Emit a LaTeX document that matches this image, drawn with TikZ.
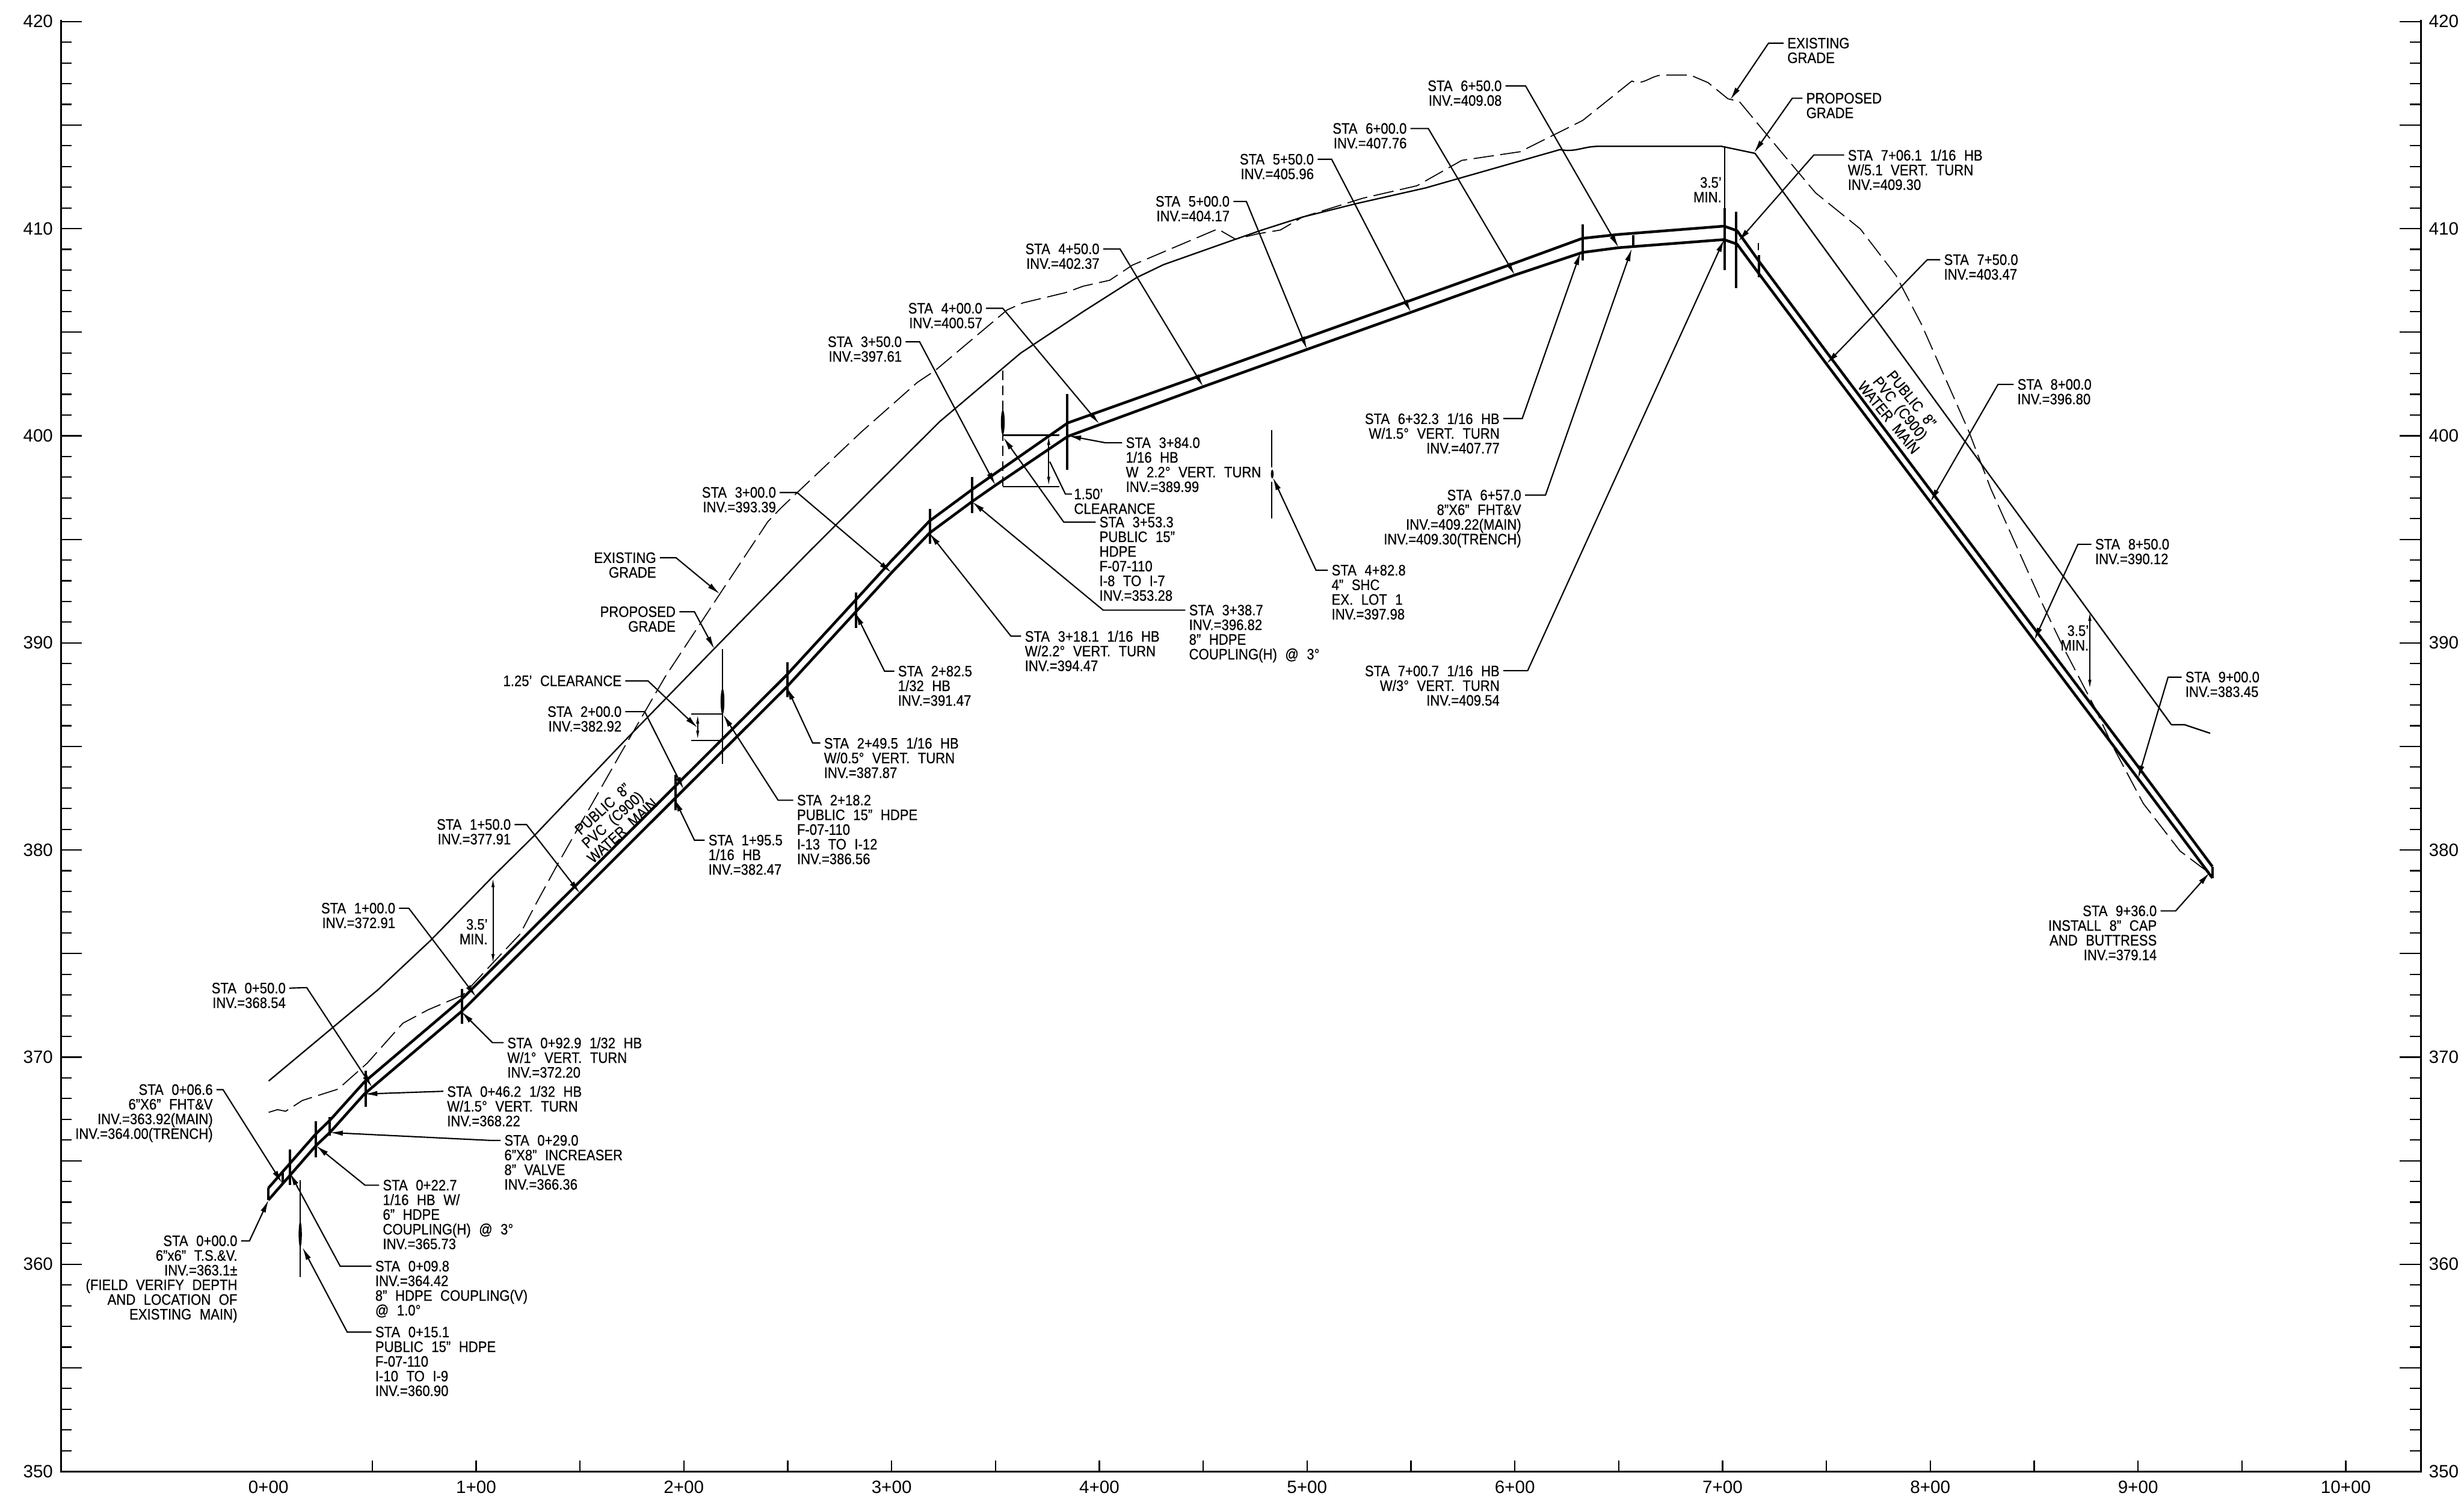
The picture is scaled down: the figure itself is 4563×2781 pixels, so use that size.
\documentclass[tikz,border=0pt]{standalone}
\usepackage{fontspec}
\usetikzlibrary{arrows.meta}
\setmainfont[FakeStretch=0.88,WordSpace=2.2,FakeBold=0.5]{Liberation Sans}
\newfontfamily\axfont{Liberation Sans}
\tikzset{
  lab/.style={inner sep=0pt,outer sep=0pt,font=\fontsize{14}{13.6}\selectfont},
  laW/.style={lab,anchor=north west,align=left},
  laE/.style={lab,anchor=north east,align=right},
  axlab/.style={inner sep=0pt,outer sep=0pt,font=\axfont\fontsize{16.5}{18}\selectfont},
  axisline/.style={line width=1.6pt,line cap=rect},
  tickline/.style={line width=1.2pt},
  pipe/.style={line width=2.5pt,line join=round},
  gradeline/.style={line width=1.3pt,line join=round},
  exgrade/.style={line width=0.95pt,dash pattern=on 19pt off 6pt,line join=round},
  leader/.style={line width=1.2pt,line join=miter,-{Latex[length=12pt,width=5pt]}},
  plainleader/.style={line width=1.2pt},
  dimline/.style={line width=1.1pt,{Latex[length=9pt,width=3pt]}-{Latex[length=9pt,width=3pt]}},
  fitmark/.style={line width=2.2pt},
  thinmark/.style={line width=1.3pt},
}
\newcommand{\leadE}[4]{\draw[leader] ([xshift=3.5pt,yshift=-5pt]#1.north east) -- (#2,#3) -- (#4);}
\newcommand{\leadW}[4]{\draw[leader] ([xshift=-3.5pt,yshift=-5pt]#1.north west) -- (#2,#3) -- (#4);}
\begin{document}
\begin{tikzpicture}[x=0.5pt,y=-0.5pt]
\path[fill=white,use as bounding box] (0,0) rectangle (4563,2781);
% axes
\draw[axisline] (113,38) -- (113,2725) -- (4483,2725) -- (4483,38);
\foreach \i in {1,...,70}{
  \pgfmathsetmacro{\yy}{2725-38.36*\i}
  \pgfmathtruncatemacro{\mm}{mod(\i,5)==0 ? 39 : 20}
  \draw[tickline] (113,\yy) -- ++(\mm,0);
  \draw[tickline] (4483,\yy) -- ++(-\mm,0);
}
\foreach \i in {0,...,7}{
  \pgfmathsetmacro{\yy}{2725-383.6*\i}
  \pgfmathtruncatemacro{\vv}{350+10*\i}
  \node[axlab,anchor=east] (yl\i) at (98,\yy) {\vv};
  \node[axlab,anchor=west] (yr\i) at (4498,\yy) {\vv};
}
\foreach \i in {1,...,20}{
  \pgfmathsetmacro{\xx}{497+192.35*\i}
  \draw[tickline] (\xx,2725) -- ++(0,-20);
}
\foreach \i in {0,...,10}{
  \pgfmathsetmacro{\xx}{497+384.7*\i}
  \node[axlab] (xl\i) at (\xx,2754) {\i+00};
}
% data scope: x in stations, y in elevation
\begin{scope}[x=192.35pt,y=19.18pt,shift={(248.5pt,-8075.5pt)}]
\draw[pipe] (0,363.1) coordinate (lowS) -- (.229,365.73) -- (.296,366.36) -- (.462,368.22) -- (.929,372.2) -- (1,372.91) -- (1.5,377.91) -- (2,382.92) -- (2.495,387.87) -- (2.825,391.47) -- (3,393.39) -- (3.182,395.3) -- (3.387,396.82) -- (3.5,397.61) -- (3.848,399.97) -- (4.5,402.37) -- (5,404.17) -- (5.5,405.96) -- (6,407.76) -- (6.325,408.85) -- (6.5,409.08) -- (7.007,409.47) -- (7.07,409.25) -- (7.18,407.76) -- (7.5,403.47) -- (8,396.8) -- (8.5,390.12) -- (9,383.45) -- (9.358,378.65) coordinate (lowE);
\draw[pipe] (0,363.68) coordinate (upS) -- (.229,366.3) -- (.296,366.95) -- (.462,368.8) -- (.929,372.78) -- (1,373.49) -- (1.5,378.49) -- (2,383.5) -- (2.495,388.45) -- (2.825,392.05) -- (3,393.97) -- (3.182,395.88) -- (3.387,397.4) -- (3.5,398.19) -- (3.848,400.62) -- (4.5,402.95) -- (5,404.75) -- (5.5,406.54) -- (6,408.34) -- (6.325,409.53) -- (6.5,409.72) -- (7.007,410.12) -- (7.07,409.9) -- (7.18,408.36) -- (7.5,404.05) -- (8,397.38) -- (8.5,390.7) -- (9,384.03) -- (9.358,379.2) coordinate (upE);
\draw[pipe] (lowS) -- (upS);
\draw[pipe] (lowE) -- (upE);
\coordinate (t000) at (0,363.1);
\coordinate (t066) at (.066,363.92);
\coordinate (t098) at (.103,364.42);
\coordinate (t227) at (.229,365.73);
\coordinate (t290) at (.296,366.36);
\coordinate (t462) at (.462,368.22);
\coordinate (t050) at (.5,368.54);
\coordinate (t929) at (.929,372.2);
\coordinate (t100) at (1,372.91);
\coordinate (t150) at (1.5,377.91);
\coordinate (t195) at (1.955,382.47);
\coordinate (t200) at (2,382.92);
\coordinate (t249) at (2.495,387.87);
\coordinate (t282) at (2.825,391.47);
\coordinate (t300) at (3,393.39);
\coordinate (t318) at (3.182,395.3);
\coordinate (t338) at (3.387,396.82);
\coordinate (t350) at (3.5,397.61);
\coordinate (t400) at (4,400.57);
\coordinate (t450) at (4.5,402.37);
\coordinate (t500) at (5,404.17);
\coordinate (t550) at (5.5,405.96);
\coordinate (t600) at (6,407.76);
\coordinate (t650) at (6.5,409.08);
\coordinate (t750) at (7.5,403.47);
\coordinate (t800) at (8,396.8);
\coordinate (t850) at (8.5,390.12);
\coordinate (t900) at (9,383.45);
\end{scope}
% proposed grade
\draw[gradeline] (497.5,2002) -- (700,1833) -- (797,1742) -- (913,1623) -- (990,1547) -- (1149,1380) -- (1324,1200) -- (1500,1020) -- (1740,781) -- (1890,654) -- (2006,577) -- (2105,514) -- (2155,490) -- (2288,443) -- (2337,426) -- (2412,402) -- (2512,377) -- (2640,348) -- (2889,277) to[out=-12,in=180] (2960,271) -- (3188,271) -- (3250,284) -- (4021,1342) -- (4045,1342) -- (4093,1358);
% existing grade
\draw[exgrade] (497.5,2060) -- (514,2055) -- (529,2058) -- (560,2038) -- (626,2017) -- (680,1969) -- (746,1895) -- (793,1870) -- (857,1843) -- (913,1783) -- (963,1730) -- (993,1673) -- (1033,1600) -- (1067,1540) -- (1149,1396) -- (1232,1253) -- (1331,1103) -- (1422,966) -- (1447,940) -- (1595,800) -- (1699,708) -- (1732,686) -- (1865,574) -- (1894,561) -- (1973,542) -- (2006,530) -- (2055,519) -- (2097,491) -- (2255,424) -- (2288,443) -- (2329,433) -- (2371,426) -- (2412,402) -- (2524,367) -- (2624,344) -- (2707,297) -- (2815,281) -- (2931,223) -- (3022,150) to[out=-25,in=180] (3080,139) -- (3130,139) -- (3163,153) -- (3200,183) -- (3221,188) -- (3279,258) -- (3362,357) -- (3445,424) -- (3511,510) -- (3558,600) -- (3646,799) -- (3687,906) -- (3783,1120) -- (3820,1197) -- (3880,1312) -- (3912,1381) -- (3969,1488) -- (4037,1576) -- (4093,1618);
% fitting marks
\draw[fitmark] (524,2172) -- (524,2191);
\draw[fitmark] (536.5,2129) -- (536.5,2195);
\draw[fitmark] (585,2077) -- (585,2143);
\draw[fitmark] (611,2069) -- (611,2103);
\draw[fitmark] (677,1983) -- (677,2050);
\draw[fitmark] (856,1831) -- (856,1896);
\draw[fitmark] (1251,1435) -- (1251,1501);
\draw[fitmark] (1458,1227) -- (1458,1291);
\draw[fitmark] (1585,1097) -- (1585,1163);
\draw[fitmark] (1722,942) -- (1722,1007);
\draw[fitmark] (1800,883) -- (1800,950);
\draw[fitmark] (1976,730) -- (1976,870);
\draw[fitmark] (2931,415) -- (2931,482);
\draw[fitmark] (3024,436) -- (3024,459);
\draw[fitmark] (3193.5,385) -- (3193.5,500);
\draw[fitmark] (3215,392) -- (3215,534);
\draw[thinmark] (3256,450) -- (3256,463);
\draw[fitmark] (3257,472) -- (3257,513);
% crossings
\draw[thinmark] (556,2186) -- (556,2365);
\fill (556,2286) ellipse (3 and 24);
\draw[thinmark] (1338,1202) -- (1338,1415);
\fill (1338,1299) ellipse (3.5 and 24);
\draw[thinmark,dash pattern=on 9pt off 5pt] (1857,686) -- (1857,903);
\fill (1857,782) ellipse (3.5 and 23);
\draw[thinmark] (2355,797) -- (2355,866);
\draw[thinmark] (2355,892) -- (2355,960);
\fill (2356,878) ellipse (2.5 and 8);
% clearance dims
\draw[thinmark] (1280,1322) -- (1338,1322);
\draw[thinmark] (1280,1371) -- (1338,1371);
\draw[dimline] (1292,1322) -- (1292,1371);
\draw[thinmark] (1857,806) -- (1962,806);
\draw[thinmark] (1857,901) -- (1962,901);
\draw[dimline] (1942,806) -- (1942,901);
% 3.5 min dims
\draw[dimline] (913,1625) -- (913,1785);
\draw[dimline,-] (3193.5,272) -- (3193.5,400);
\draw[dimline] (3870,1132) -- (3870,1277);
\node[lab,anchor=north east,align=right] (minA) at (903,1702) {3.5'\\MIN.};
\node[lab,anchor=north east,align=right] (minB) at (3188,328) {3.5'\\MIN.};
\node[lab,anchor=north east,align=right] (minC) at (3868,1158) {3.5'\\MIN.};
% pipe notes
\node[lab,align=center,rotate=42] (noteA) at (1134,1518) {PUBLIC 8"\\PVC (C900)\\WATER MAIN};
\node[lab,align=center,rotate=-51] (noteB) at (3519,756) {PUBLIC 8"\\PVC (C900)\\WATER MAIN};
% free leader ends
\coordinate (tA) at (497.5,2222);
\coordinate (t151) at (560,2310);
\coordinate (t125) at (1292,1348);
\coordinate (tEG1) at (1333,1100);
\coordinate (tPG1) at (1323,1202);
\coordinate (t218) at (1339,1323);
\coordinate (t353) at (1858,810);
\coordinate (t384) at (1978,807);
\coordinate (t482) at (2357,884);
\coordinate (t632) at (2927,467);
\coordinate (t657) at (3022,460);
\coordinate (t707) at (3193,443);
\coordinate (tEG2) at (3204,185);
\coordinate (tPG2) at (3248,283);
\coordinate (t761) at (3219,447);
\coordinate (t936) at (4092,1616);
\coordinate (t150c) at (1944,855);
% labels
\node[laE] (L1) at (529,1820) {STA 0+50.0\\INV.=368.54};
\leadE{L1}{568}{1829}{t050}
\node[laE] (L2) at (394,2008) {STA 0+06.6\\6"X6" FHT\&V\\INV.=363.92(MAIN)\\INV.=364.00(TRENCH)};
\leadE{L2}{413}{2018}{t066}
\node[laE] (L3) at (439.5,2288) {STA 0+00.0\\6"x6" T.S.\&V.\\INV.=363.1±\\(FIELD VERIFY DEPTH\\AND LOCATION OF\\EXISTING MAIN)};
\leadE{L3}{462}{2298}{tA}
\node[laW] (L4) at (939.5,1921) {STA 0+92.9 1/32 HB\\W/1° VERT. TURN\\INV.=372.20};
\leadW{L4}{912}{1931}{t929}
\node[laW] (L5) at (828,2011) {STA 0+46.2 1/32 HB\\W/1.5° VERT. TURN\\INV.=368.22};
\draw[leader] ([xshift=-3.5pt,yshift=-5pt]L5.north west) -- (t462);
\node[laW] (L6) at (934,2102) {STA 0+29.0\\6"X8" INCREASER\\8" VALVE\\INV.=366.36};
\leadW{L6}{908}{2112}{t290}
\node[laW] (L7) at (709,2185) {STA 0+22.7\\1/16 HB W/\\6" HDPE\\COUPLING(H) @ 3°\\INV.=365.73};
\leadW{L7}{676}{2195}{t227}
\node[laW] (L8) at (695,2335) {STA 0+09.8\\INV.=364.42\\8" HDPE COUPLING(V)\\@ 1.0°};
\leadW{L8}{630}{2345}{t098}
\node[laW] (L9) at (695,2457) {STA 0+15.1\\PUBLIC 15" HDPE\\F-07-110\\I-10 TO I-9\\INV.=360.90};
\leadW{L9}{643}{2467}{t151}
\node[laE] (L10) at (732,1672) {STA 1+00.0\\INV.=372.91};
\leadE{L10}{757}{1682}{t100}
\node[laE] (L11) at (946,1517) {STA 1+50.0\\INV.=377.91};
\leadE{L11}{975}{1527}{t150}
\node[laE] (L12) at (1151,1308) {STA 2+00.0\\INV.=382.92};
\leadE{L12}{1194}{1318}{t200}
\node[laE] (L13) at (1151,1251) {1.25' CLEARANCE};
\leadE{L13}{1200}{1261}{t125}
\node[laE] (L14) at (1215,1023) {EXISTING\\GRADE};
\leadE{L14}{1252}{1033}{tEG1}
\node[laE] (L15) at (1251,1123) {PROPOSED\\GRADE};
\leadE{L15}{1286}{1133}{tPG1}
\node[laE] (L16) at (1437,902) {STA 3+00.0\\INV.=393.39};
\leadE{L16}{1476}{912}{t300}
\node[laW] (L17) at (1312,1546) {STA 1+95.5\\1/16 HB\\INV.=382.47};
\leadW{L17}{1286}{1556}{t195}
\node[laW] (L18) at (1476,1472) {STA 2+18.2\\PUBLIC 15" HDPE\\F-07-110\\I-13 TO I-12\\INV.=386.56};
\leadW{L18}{1441}{1482}{t218}
\node[laW] (L19) at (1526,1366) {STA 2+49.5 1/16 HB\\W/0.5° VERT. TURN\\INV.=387.87};
\leadW{L19}{1505}{1376}{t249}
\node[laW] (L20) at (1663,1233) {STA 2+82.5\\1/32 HB\\INV.=391.47};
\leadW{L20}{1638}{1243}{t282}
\node[laW] (L21) at (1898,1168) {STA 3+18.1 1/16 HB\\W/2.2° VERT. TURN\\INV.=394.47};
\leadW{L21}{1872}{1178}{t318}
\node[laW] (L22) at (2202,1120) {STA 3+38.7\\INV.=396.82\\8" HDPE\\COUPLING(H) @ 3°};
\leadW{L22}{2043}{1130}{t338}
\node[laW] (L23) at (2036,957) {STA 3+53.3\\PUBLIC 15"\\HDPE\\F-07-110\\I-8 TO I-7\\INV.=353.28};
\leadW{L23}{1970}{967}{t353}
\node[laW] (L24) at (1989,905) {1.50'\\CLEARANCE};
\draw[plainleader] ([xshift=-2pt,yshift=-5pt]L24.north west) -- (1973,915) -- (t150c);
\node[laW] (L25) at (2085,810) {STA 3+84.0\\1/16 HB\\W 2.2° VERT. TURN\\INV.=389.99};
\leadW{L25}{2047}{820}{t384}
\node[laE] (L26) at (1670,623) {STA 3+50.0\\INV.=397.61};
\leadE{L26}{1703}{633}{t350}
\node[laE] (L27) at (1819,561) {STA 4+00.0\\INV.=400.57};
\leadE{L27}{1857}{571}{t400}
\node[laE] (L28) at (2036,451) {STA 4+50.0\\INV.=402.37};
\leadE{L28}{2074}{461}{t450}
\node[laE] (L29) at (2277,363) {STA 5+00.0\\INV.=404.17};
\leadE{L29}{2308}{373}{t500}
\node[laE] (L30) at (2433,285) {STA 5+50.0\\INV.=405.96};
\leadE{L30}{2466}{295}{t550}
\node[laE] (L31) at (2605,228) {STA 6+00.0\\INV.=407.76};
\leadE{L31}{2645}{238}{t600}
\node[laE] (L32) at (2781,149) {STA 6+50.0\\INV.=409.08};
\leadE{L32}{2825}{159}{t650}
\node[laE] (L33) at (2777,765) {STA 6+32.3 1/16 HB\\W/1.5° VERT. TURN\\INV.=407.77};
\leadE{L33}{2819}{775}{t632}
\node[laE] (L34) at (2817,907) {STA 6+57.0\\8"X6" FHT\&V\\INV.=409.22(MAIN)\\INV.=409.30(TRENCH)};
\leadE{L34}{2862}{917}{t657}
\node[laE] (L35) at (2777,1232) {STA 7+00.7 1/16 HB\\W/3° VERT. TURN\\INV.=409.54};
\leadE{L35}{2829}{1242}{t707}
\node[laW] (L36) at (3310,70) {EXISTING\\GRADE};
\leadW{L36}{3275}{80}{tEG2}
\node[laW] (L37) at (3345,172) {PROPOSED\\GRADE};
\leadW{L37}{3319}{182}{tPG2}
\node[laW] (L38) at (3422,277) {STA 7+06.1 1/16 HB\\W/5.1 VERT. TURN\\INV.=409.30};
\leadW{L38}{3359}{287}{t761}
\node[laW] (L39) at (3600,471) {STA 7+50.0\\INV.=403.47};
\leadW{L39}{3569}{481}{t750}
\node[laW] (L40) at (3736,702) {STA 8+00.0\\INV.=396.80};
\leadW{L40}{3700}{712}{t800}
\node[laW] (L41) at (3880,998) {STA 8+50.0\\INV.=390.12};
\leadW{L41}{3848}{1008}{t850}
\node[laW] (L42) at (4047,1244) {STA 9+00.0\\INV.=383.45};
\leadW{L42}{4015}{1254}{t900}
\node[laE] (L43) at (3994,1677) {STA 9+36.0\\INSTALL 8" CAP\\AND BUTTRESS\\INV.=379.14};
\leadE{L43}{4029}{1687}{t936}
\node[laW] (L44) at (2466,1046) {STA 4+82.8\\4" SHC\\EX. LOT 1\\INV.=397.98};
\leadW{L44}{2437}{1056}{t482}
\end{tikzpicture}
\end{document}
